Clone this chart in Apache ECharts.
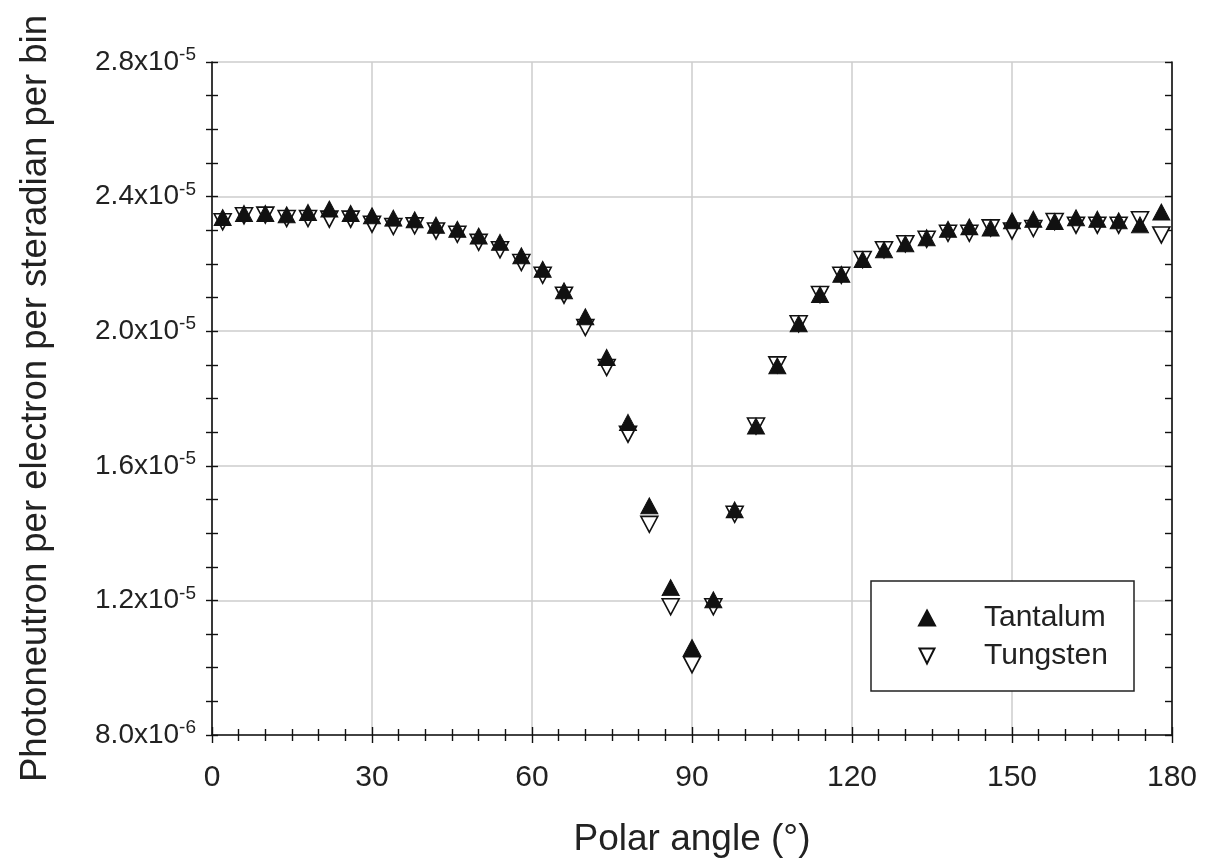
<!DOCTYPE html>
<html><head><meta charset="utf-8">
<script src="https://cdn.jsdelivr.net/npm/echarts@6/dist/echarts.min.js"></script>
<style>html,body{margin:0;padding:0;background:#fff}#c{width:1206px;height:867px}</style>
</head><body><div id="c"></div>
<script>
// Polar angle (degrees)
const angles = [2,6,10,14,18,22,26,30,34,38,42,46,50,54,58,62,66,70,74,78,82,86,90,94,98,102,106,110,114,118,122,126,130,134,138,142,146,150,154,158,162,166,170,174,178];
// Photoneutron per electron per steradian per bin, in units of 1e-5
const tantalum = [2.338,2.350,2.350,2.346,2.353,2.363,2.350,2.343,2.336,2.331,2.315,2.303,2.283,2.264,2.224,2.184,2.120,2.043,1.922,1.729,1.481,1.238,1.060,1.202,1.469,1.718,1.897,2.022,2.109,2.169,2.213,2.242,2.260,2.278,2.303,2.310,2.307,2.328,2.333,2.326,2.337,2.333,2.328,2.316,2.354];
const tungsten = [2.325,2.343,2.345,2.335,2.335,2.333,2.333,2.318,2.311,2.313,2.298,2.288,2.264,2.242,2.204,2.166,2.107,2.011,1.892,1.694,1.426,1.181,1.009,1.181,1.456,1.718,1.900,2.022,2.109,2.166,2.213,2.242,2.260,2.273,2.291,2.291,2.307,2.298,2.305,2.326,2.315,2.315,2.315,2.331,2.286];
const seriesNames = ['Tantalum','Tungsten'];
const xTitle = 'Polar angle (°)';
const yTitle = 'Photoneutron per electron per steradian per bin';
const Y_UNIT_EXP = -5;

const FONT = '"Liberation Sans", Arial, Helvetica, sans-serif';
const INK = '#111';
const downTri = 'path://M0,0 L20,0 L10,20 Z';

function yLabel(v) {
  const e = Math.floor(Math.log10(v) + 1e-9);
  const exp = e + Y_UNIT_EXP;
  const m = v / Math.pow(10, e);
  return '{m|' + m.toFixed(1) + 'x10}{e|' + exp + '}';
}

const chart = echarts.init(document.getElementById('c'), null, {renderer: 'canvas'});
const axisLineStyle = {color: INK, width: 1.6};
const tickLine = {color: INK, width: 1.4};
const gridLine = {color: '#cccccc', width: 1.5};

const option = {
  backgroundColor: '#fff',
  animation: false,
  grid: {left: 212, right: 34, top: 62, bottom: 132, containLabel: false},
  xAxis: [
    {
      type: 'value', min: 0, max: 180, interval: 30, position: 'bottom',
      axisLine: {show: true, lineStyle: axisLineStyle},
      axisTick: {show: true, inside: true, length: 8, lineStyle: tickLine},
      minorTick: {show: true, splitNumber: 6, length: 6, lineStyle: tickLine},
      splitLine: {show: true, lineStyle: gridLine},
      axisLabel: {fontSize: 30, margin: 28, color: '#222', fontFamily: FONT},
      name: xTitle, nameLocation: 'middle', nameGap: 86,
      nameTextStyle: {fontSize: 37, color: '#222', fontFamily: FONT}
    },
    {
      type: 'value', min: 0, max: 180, interval: 30, position: 'bottom', offset: 0,
      axisLine: {show: false},
      axisTick: {show: true, inside: false, length: 8, lineStyle: tickLine},
      minorTick: {show: true, splitNumber: 6, length: 6, lineStyle: tickLine},
      splitLine: {show: false}, axisLabel: {show: false}
    }
  ],
  yAxis: [
    {
      type: 'value', min: 0.8, max: 2.8, interval: 0.4, position: 'left', offset: 0,
      axisLine: {show: true, lineStyle: axisLineStyle},
      axisTick: {show: true, inside: true, length: 6, lineStyle: tickLine},
      minorTick: {show: true, splitNumber: 4, length: 6, lineStyle: tickLine},
      splitLine: {show: true, lineStyle: gridLine},
      axisLabel: {
        margin: 16, color: '#222', fontFamily: FONT, formatter: yLabel,
        rich: {
          m: {fontSize: 28, fontFamily: FONT, color: '#222'},
          e: {fontSize: 19, fontFamily: FONT, color: '#222', padding: [0, 0, 14, 0]}
        }
      },
      name: yTitle, nameLocation: 'middle', nameGap: 158, nameRotate: 90,
      nameTextStyle: {fontSize: 36.5, color: '#222', fontFamily: FONT}
    },
    {
      type: 'value', min: 0.8, max: 2.8, interval: 0.4, position: 'left', offset: 0,
      axisLine: {show: false},
      axisTick: {show: true, inside: false, length: 6, lineStyle: tickLine},
      minorTick: {show: true, splitNumber: 4, length: 6, lineStyle: tickLine},
      splitLine: {show: false}, axisLabel: {show: false}
    },
    {
      type: 'value', min: 0.8, max: 2.8, interval: 0.4, position: 'right', offset: 0,
      axisLine: {show: true, lineStyle: axisLineStyle},
      axisTick: {show: true, inside: true, length: 7, lineStyle: tickLine},
      minorTick: {show: true, splitNumber: 4, length: 7, lineStyle: tickLine},
      splitLine: {show: false}, axisLabel: {show: false}
    }
  ],
  graphic: [{
    type: 'rect', z: 3,
    shape: {x: 871, y: 581, width: 263, height: 110},
    style: {fill: '#fff', stroke: '#222', lineWidth: 1.5}
  }],
  legend: {
    orient: 'vertical', left: 918, top: 603, z: 5, padding: 0,
    itemWidth: 16, itemHeight: 15, itemGap: 8, selectedMode: false,
    data: [
      {name: seriesNames[0], icon: 'triangle'},
      {name: seriesNames[1], icon: downTri}
    ],
    textStyle: {fontSize: 30, lineHeight: 30, color: '#222', fontFamily: FONT, padding: [0, 0, 0, 44]}
  },
  series: [
    {
      name: seriesNames[1], type: 'scatter', xAxisIndex: 0, yAxisIndex: 0, z: 2,
      symbol: downTri, symbolSize: [17, 16],
      itemStyle: {color: '#fff', borderColor: INK, borderWidth: 1.6, opacity: 1},
      data: angles.map((a, i) => [a, tungsten[i]])
    },
    {
      name: seriesNames[0], type: 'scatter', xAxisIndex: 0, yAxisIndex: 0, z: 3,
      symbol: 'triangle', symbolSize: [17, 16],
      itemStyle: {color: INK, borderColor: INK, borderWidth: 1, opacity: 1},
      data: angles.map((a, i) => [a, tantalum[i]])
    }
  ]
};
chart.setOption(option);
</script>
</body></html>
